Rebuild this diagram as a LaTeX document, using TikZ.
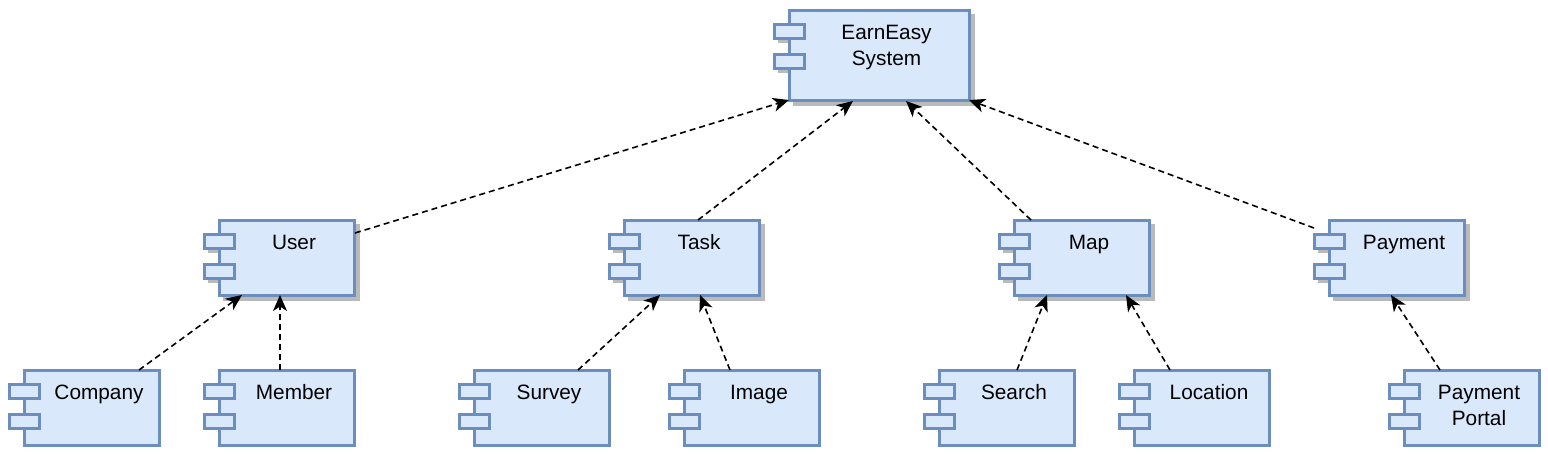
\documentclass[tikz,border=0pt]{standalone}
\usepackage{fontspec}
\setmainfont{Liberation Sans}
\usetikzlibrary{arrows.meta,calc}
\definecolor{cfill}{HTML}{DAE8FC}
\definecolor{cline}{HTML}{6C8EBF}
\tikzset{
 comp/.style={draw=cline, fill=cfill, line width=3pt, rectangle, inner sep=0pt, outer sep=0pt, anchor=north west},
 port/.style={draw=cline, fill=cfill, line width=3pt},
 shad/.style={fill=black!27, draw=none},
 lbl/.style={font=\fontsize{20.8}{26}\selectfont, align=center, anchor=north, inner sep=0pt},
 dep/.style={line width=1.6pt, dash pattern=on 6pt off 4pt, -{Stealth[length=16pt,width=14pt,inset=4.5pt]}}
}
\newcommand\mkcomp[7]{%
 \ifnum#7=1
   \fill[shad] (#2+4,#3+4) rectangle ++(#4+1.5,#5+1.5);
   \fill[shad] (#2-11,#3+18) rectangle ++(30,15);
   \fill[shad] (#2-11,#3+48) rectangle ++(30,15);
 \fi
 \node[comp, minimum width=#4pt, minimum height=#5pt] (#1) at (#2,#3) {};
 \draw[port] (#2-15,#3+14) rectangle ++(30,14);
 \draw[port] (#2-15,#3+44) rectangle ++(30,14);
 \node[lbl] (#1-t) at (#2+15+#4/2-7.5, #3+14.5) {#6};
}
\begin{document}
\begin{tikzpicture}[x=1pt,y=-1pt]
\useasboundingbox (0,0) rectangle (1548,453);
\mkcomp{earn}{789}{10}{180}{90}{EarnEasy\\System}{1}
\mkcomp{user}{219}{220}{135}{75}{User}{1}
\mkcomp{task}{624}{220}{135}{75}{Task}{1}
\mkcomp{map}{1014}{220}{135}{75}{Map}{1}
\mkcomp{pay}{1329}{220}{135}{75}{Payment}{1}
\mkcomp{company}{24}{370}{135}{75}{Company}{0}
\mkcomp{member}{219}{370}{135}{75}{Member}{0}
\mkcomp{survey}{474}{370}{135}{75}{Survey}{0}
\mkcomp{image}{684}{370}{135}{75}{Image}{0}
\mkcomp{search}{939}{370}{135}{75}{Search}{0}
\mkcomp{location}{1134}{370}{135}{75}{Location}{0}
\mkcomp{portal}{1404}{370}{135}{75}{Payment\\Portal}{0}

\draw[dep] ($(user.north east)+(1,13)$) -- (earn.south west);
\draw[dep] ($(task.north west)+(74,0)$) -- ($(earn.south west)+(64,1)$);
\draw[dep] ($(map.north west)+(17,0)$) -- ($(earn.south west)+(117,1)$);
\draw[dep] ($(pay.north west)+(-15,8)$) -- (earn.south east);
\draw[dep] ($(company.north west)+(115,0)$) -- ($(user.south west)+(23,0)$);
\draw[dep] ($(member.north west)+(61,0)$) -- ($(user.south west)+(61,0)$);
\draw[dep] ($(survey.north west)+(104,0)$) -- ($(task.south west)+(36,0)$);
\draw[dep] ($(image.north west)+(46,0)$) -- ($(task.south west)+(76,0)$);
\draw[dep] ($(search.north west)+(78,0)$) -- ($(map.south west)+(33,0)$);
\draw[dep] ($(location.north west)+(36,0)$) -- ($(map.south west)+(112,0)$);
\draw[dep] ($(portal.north west)+(36,0)$) -- ($(pay.south west)+(62,0)$);
\end{tikzpicture}
\end{document}
